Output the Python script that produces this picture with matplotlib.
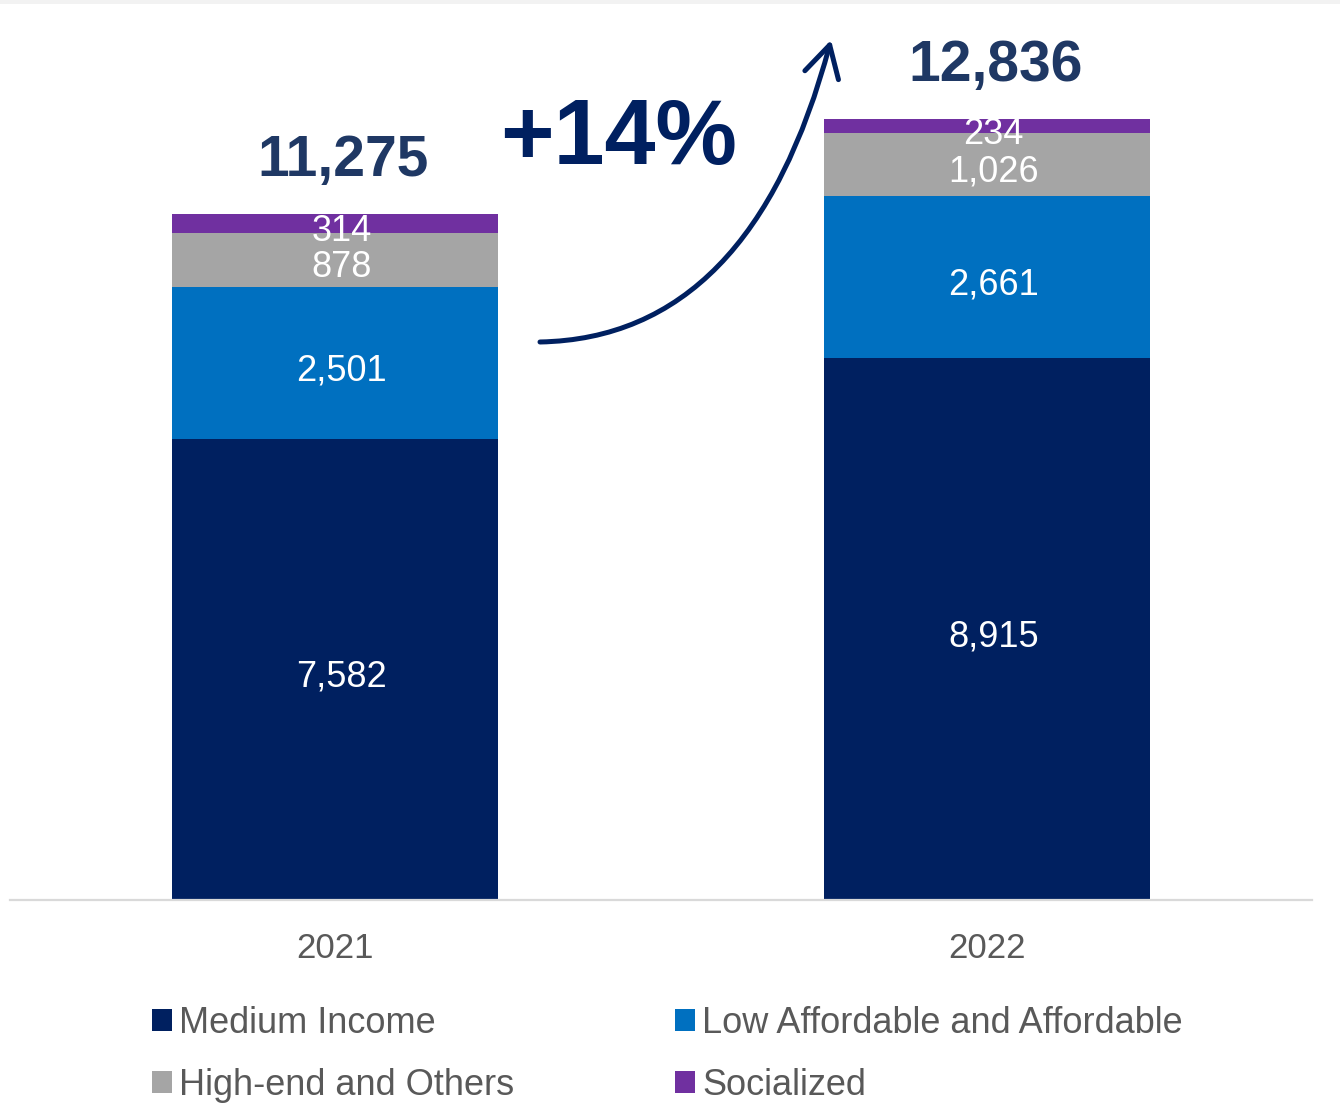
import numpy as np
import matplotlib
matplotlib.use('Agg')
from matplotlib import pyplot
from matplotlib.path import Path
from matplotlib.patches import FancyArrowPatch, Rectangle
from matplotlib.transforms import offset_copy

pyplot.rcParams['font.family'] = ['Liberation Sans', 'DejaVu Sans']

years = ['2021', '2022']
medium_income = [7582, 8915]
low_affordable = [2501, 2661]
high_end = [878, 1026]
socialized = [314, 234]
totals = [11275, 12836]
growth_label = '+14%'

series = [
    ('Medium Income', medium_income, '#002060'),
    ('Low Affordable and Affordable', low_affordable, '#0070C0'),
    ('High-end and Others', high_end, '#A5A5A5'),
    ('Socialized', socialized, '#7030A0'),
]

W, H = 1340, 1104
fig = pyplot.figure(figsize=(W / 100, H / 100), dpi=100)

# thin grey strip along the top edge
fig.patches.append(Rectangle((0, 1 - 4 / H), 1, 4 / H, transform=fig.transFigure,
                             facecolor='#f2f2f2', edgecolor='none'))

ax = fig.add_axes([10 / W, (H - 900) / H, 1302 / W, 890 / H])
label_tf = offset_copy(ax.transData, fig=fig, x=6, y=-4, units='dots')
x = np.arange(len(years))
bottom = np.zeros(len(years))
handles = []
for name, vals, color in series:
    vals = np.array(vals, dtype=float)
    bars = ax.bar(x, vals, 0.5, bottom=bottom, color=color, label=name, zorder=2)
    handles.append(bars)
    for xi, b, v in zip(x, bottom, vals):
        ax.text(xi, b + v / 2, f'{int(v):,}', ha='center', va='center_baseline',
                color='white', fontsize=26, zorder=3, transform=label_tf)
    bottom += vals

for xi, t in zip(x, totals):
    ax.text(xi + 0.012, t + 870, f'{t:,}', ha='center', va='center',
            color='#1F3864', fontsize=41, fontweight='bold')

ax.set_xlim(-0.4992, 1.4977)
ax.set_ylim(0, 890 / 0.060843)
ax.set_xticks(x)
ax.set_xticklabels(years, fontsize=25, color='#595959')
ax.tick_params(axis='x', length=0, pad=23)
ax.set_yticks([])
for side in ['top', 'left', 'right']:
    ax.spines[side].set_visible(False)
ax.spines['bottom'].set_color('#d9d9d9')
ax.spines['bottom'].set_linewidth(1.6)

# growth arrow between the two bars
def fpt(px, py):
    return (px / W, 1 - py / H)

curve = Path([fpt(540, 342), fpt(752, 338), fpt(831, 40)],
             [Path.MOVETO, Path.CURVE3, Path.CURVE3])
arrow = FancyArrowPatch(path=curve, transform=fig.transFigure,
                        arrowstyle='->,head_length=0.45,head_width=0.25',
                        mutation_scale=50, color='#002060', linewidth=3.6,
                        capstyle='round', joinstyle='round')
fig.patches.append(arrow)
fig.text(619 / W, 1 - 140 / H, growth_label, ha='center', va='center',
         color='#002060', fontsize=66, fontweight='bold')

# legend fills column-wise, so order the handles to read row by row
order = [0, 2, 1, 3]
leg = fig.legend(handles=[handles[i] for i in order], loc='upper left',
                 bbox_to_anchor=(152 / W, 1 - 1006 / H),
                 ncol=2, frameon=False, fontsize=26, labelcolor='#595959',
                 handlelength=0.55, handleheight=0.55, handletextpad=0.2,
                 columnspacing=4.45, labelspacing=0.75, borderpad=0, borderaxespad=0)

pyplot.savefig('out.png', dpi=100)
